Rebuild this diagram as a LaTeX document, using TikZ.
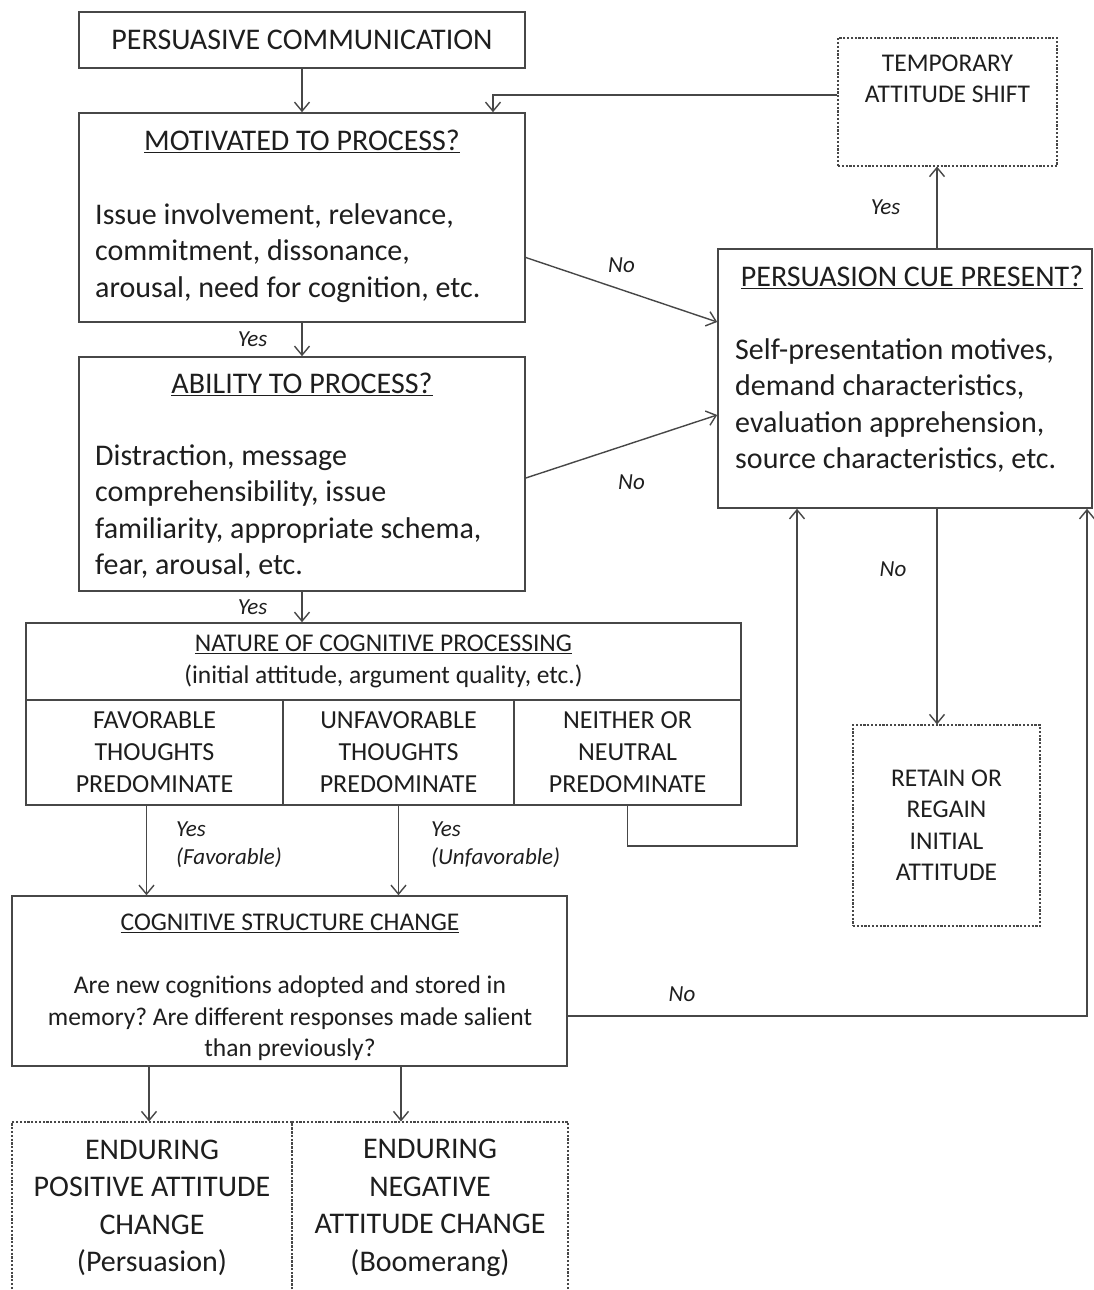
\documentclass[tikz,border=0pt]{standalone}
\usepackage{fontspec}
\setmainfont{Carlito}
\usetikzlibrary{arrows,arrows.meta,positioning}
\definecolor{edgegray}{HTML}{474747}
\definecolor{inkgray}{HTML}{1E1E1E}
\newcommand{\fsz}[2]{\fontsize{#1}{#2}\selectfont}
\frenchspacing

\begin{document}
\begin{tikzpicture}[x=1pt, y=-1pt, >={Straight Barb[length=9pt,width=15pt]},
  box/.style={draw=edgegray, line width=1.6pt, inner sep=0pt, text=inkgray, align=center},
  dbox/.style={box, line width=1.1pt, dash pattern=on 2.2pt off 1.6pt},
  capt/.style={inner sep=0pt, text=inkgray, align=center, font=\fsz{30}{31}},
  body/.style={inner sep=0pt, text=inkgray, align=left, font=\fsz{30}{36.5}},
  lab/.style={inner sep=0pt, text=inkgray, align=left, font=\fsz{23}{28}\itshape},
  flow/.style={->, color=edgegray, line width=1.4pt}]
  \path[use as bounding box, clip] (0,0) rectangle (1094,1290);
  \fill[white] (0,0) rectangle (1094,1290);

  \node[box, minimum width=446pt, minimum height=56pt, font=\fsz{30}{31}] (pc) at (302,40) {PERSUASIVE COMMUNICATION};
  \node[box, minimum width=446pt, minimum height=209pt] (mot) at (302,217.5) {};
  \node[capt] (motT) at (302,141) {\underline{MOTIVATED TO PROCESS?}};
  \node[body, anchor=west] (motB) at (95,253) {Issue involvement, relevance,\\commitment, dissonance,\\arousal, need for cognition, etc.};
  \node[box, minimum width=446pt, minimum height=234pt] (abl) at (302,474) {};
  \node[capt] (ablT) at (302,384) {\underline{ABILITY TO PROCESS?}};
  \node[body, anchor=west] (ablB) at (95,511.5) {Distraction, message\\comprehensibility, issue\\familiarity, appropriate schema,\\fear, arousal, etc.};

  \node[box, minimum width=715pt, minimum height=77pt, font=\fsz{25.5}{31.5}] (nat) at (383.5,661.5) {\underline{NATURE OF COGNITIVE PROCESSING}\\(initial attitude, argument quality, etc.)};
  \node[box, minimum width=257pt, minimum height=105pt, font=\fsz{26}{32}] (fav) at (154.5,752.5) {FAVORABLE\\THOUGHTS\\PREDOMINATE};
  \node[box, minimum width=231pt, minimum height=105pt, font=\fsz{26}{32}] (unfav) at (398.5,752.5) {UNFAVORABLE\\THOUGHTS\\PREDOMINATE};
  \node[box, minimum width=227pt, minimum height=105pt, font=\fsz{26}{32}] (neut) at (627.5,752.5) {NEITHER OR\\NEUTRAL\\PREDOMINATE};

  \node[box, minimum width=555pt, minimum height=170pt] (csc) at (289.5,981) {};
  \node[capt, font=\fsz{25.5}{31.5}] (cscT) at (290,923) {\underline{COGNITIVE STRUCTURE CHANGE}};
  \node[capt, font=\fsz{25.5}{31.5}] (cscB) at (290,1018.5) {Are new cognitions adopted and stored in\\memory? Are different responses made salient\\than previously?};

  \node[dbox, minimum width=280pt, minimum height=172pt, font=\fsz{30}{37.5}] (epos) at (152,1208) {ENDURING\\POSITIVE ATTITUDE\\CHANGE\\(Persuasion)};
  \node[dbox, minimum width=276pt, minimum height=172pt, font=\fsz{30}{37.5}] (eneg) at (430,1208) {ENDURING\\NEGATIVE\\ATTITUDE CHANGE\\(Boomerang)};

  \node[dbox, minimum width=219pt, minimum height=128pt] (temp) at (947.5,102) {};
  \node[capt, font=\fsz{25.5}{31}] (tempT) at (947.5,78.5) {TEMPORARY\\ATTITUDE SHIFT};
  \node[box, minimum width=374pt, minimum height=259pt] (pcue) at (905,378.5) {};
  \node[capt] (pcueT) at (912,277) {\underline{PERSUASION CUE PRESENT?}};
  \node[body, anchor=west] (pcueB) at (735,405.5) {Self-presentation motives,\\demand characteristics,\\evaluation apprehension,\\source characteristics, etc.};
  \node[dbox, minimum width=187pt, minimum height=201pt, font=\fsz{25.5}{31.5}] (retain) at (946.5,825.5) {RETAIN OR\\REGAIN\\INITIAL\\ATTITUDE};

  \path[flow]
  (pc) edge (mot)
  (mot) edge node[lab, left=34pt] (y1) {Yes} (abl)
  (abl.south) edge node[lab, left=34pt] (y2) {Yes} (abl.south |- nat.north)
  ([yshift=-40pt]mot.east) edge node[lab, above=16pt] (n1) {No} ([yshift=56.5pt]pcue.west)
  ([yshift=-4pt]abl.east) edge node[lab, below=28pt, xshift=10pt] (n2) {No} ([yshift=-36.5pt]pcue.west)
  ([xshift=32pt]pcue.north) edge node[lab, left=36pt] (y3) {Yes} ([xshift=32pt]pcue.north |- temp.south)
  ([xshift=32pt]pcue.south) edge node[lab, pos=0.28, left=30pt] (n3) {No} ([xshift=32pt]pcue.south |- retain.north)
  ([xshift=-8pt]fav.south) edge node[lab, right=29pt, yshift=6pt] (y4) {Yes\\(Favorable)} ([xshift=-8pt]fav.south |- csc.north)
  (unfav.south) edge node[lab, right=32pt, yshift=6pt] (y5) {Yes\\(Unfavorable)} (unfav.south |- csc.north);
  \draw[flow] ([xshift=-3pt]epos.north |- csc.south) -- ([xshift=-3pt]epos.north);
  \draw[flow] ([xshift=-29pt]eneg.north |- csc.south) -- ([xshift=-29pt]eneg.north);
  \draw[flow] ([yshift=7pt]temp.west) -| ([xshift=191pt]mot.north);
  \draw[flow] (neut.south) -- ++(0,40) -| ([xshift=-108pt]pcue.south);
  \draw[flow] ([yshift=-35pt]csc.east) -| node[lab, pos=0.11, above=14pt] (n4) {No} ([xshift=182pt]pcue.south);
\end{tikzpicture}
\end{document}
